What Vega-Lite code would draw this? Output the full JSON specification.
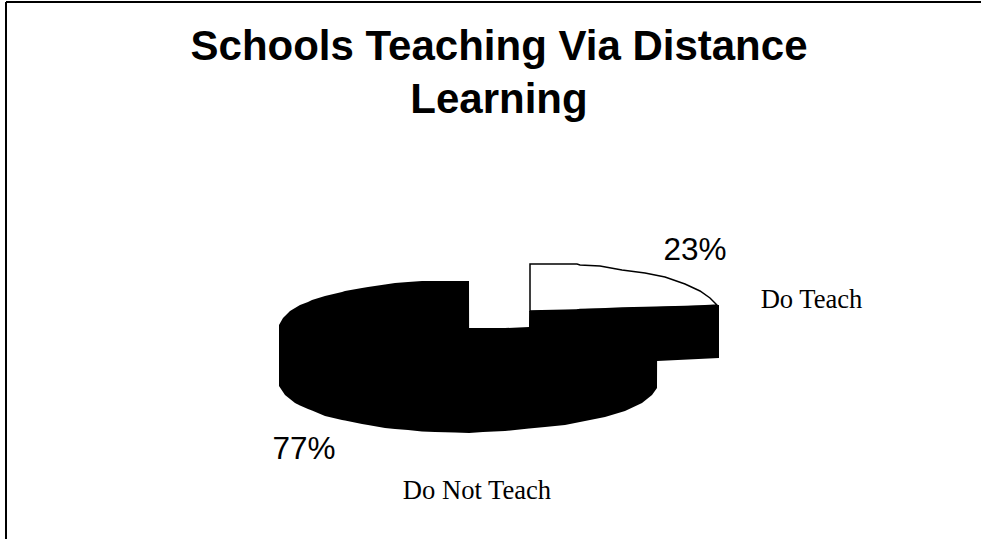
{
"$schema":"https://vega.github.io/schema/vega-lite/v6.json",
"width":981,"height":539,"padding":0,"autosize":{"type":"none"},
"background":"white",
"view":{"stroke":null},
"title":{"text":["Schools Teaching Via Distance","Learning"],"font":"Liberation Sans","fontWeight":"bold","fontSize":42,"lineHeight":53.5,"color":"black","anchor":"middle","frame":"group","orient":"top","baseline":"alphabetic","offset":-155,"dx":8.5},
"datasets":{
"frame":[{"x":6,"x2":981,"y":2,"y2":2},{"x":6,"x2":6,"y":2,"y2":539}],
"slices":[
{"slice":"Do Not Teach","x":279,"top":325,"bottom":386},
{"slice":"Do Not Teach","x":283,"top":318,"bottom":392},
{"slice":"Do Not Teach","x":285,"top":316,"bottom":395},
{"slice":"Do Not Teach","x":290,"top":311,"bottom":399},
{"slice":"Do Not Teach","x":295,"top":308,"bottom":403},
{"slice":"Do Not Teach","x":300,"top":305,"bottom":405.5},
{"slice":"Do Not Teach","x":308,"top":302,"bottom":409},
{"slice":"Do Not Teach","x":312,"top":300,"bottom":410.5},
{"slice":"Do Not Teach","x":325,"top":296,"bottom":416},
{"slice":"Do Not Teach","x":342,"top":292,"bottom":420},
{"slice":"Do Not Teach","x":345,"top":291,"bottom":420.5},
{"slice":"Do Not Teach","x":362,"top":288,"bottom":424},
{"slice":"Do Not Teach","x":368,"top":287,"bottom":425},
{"slice":"Do Not Teach","x":385,"top":284.5,"bottom":428},
{"slice":"Do Not Teach","x":395,"top":283,"bottom":429},
{"slice":"Do Not Teach","x":408,"top":282,"bottom":430},
{"slice":"Do Not Teach","x":422,"top":281,"bottom":431.5},
{"slice":"Do Not Teach","x":435,"top":281,"bottom":432},
{"slice":"Do Not Teach","x":455,"top":281,"bottom":432.5},
{"slice":"Do Not Teach","x":469,"top":281,"bottom":433},
{"slice":"Do Not Teach","x":469.1,"top":328,"bottom":433},
{"slice":"Do Not Teach","x":483,"top":328,"bottom":432},
{"slice":"Do Not Teach","x":505,"top":328,"bottom":431},
{"slice":"Do Not Teach","x":529,"top":327,"bottom":428.5},
{"slice":"Do Not Teach","x":529.1,"top":311,"bottom":428.5},
{"slice":"Do Not Teach","x":545,"top":310.5,"bottom":427},
{"slice":"Do Not Teach","x":565,"top":310,"bottom":425},
{"slice":"Do Not Teach","x":585,"top":309,"bottom":421},
{"slice":"Do Not Teach","x":605,"top":308.5,"bottom":417},
{"slice":"Do Not Teach","x":625,"top":308,"bottom":411},
{"slice":"Do Not Teach","x":642,"top":307.5,"bottom":403},
{"slice":"Do Not Teach","x":652,"top":307.3,"bottom":395},
{"slice":"Do Not Teach","x":657,"top":307,"bottom":388},
{"slice":"Do Not Teach","x":657.1,"top":307,"bottom":361},
{"slice":"Do Not Teach","x":719,"top":305,"bottom":358},
{"slice":"Do Teach","x":530,"top":264,"bottom":311},
{"slice":"Do Teach","x":577,"top":264,"bottom":310},
{"slice":"Do Teach","x":580,"top":265,"bottom":309.5},
{"slice":"Do Teach","x":600,"top":266,"bottom":309},
{"slice":"Do Teach","x":622,"top":270,"bottom":308},
{"slice":"Do Teach","x":645,"top":273,"bottom":307.5},
{"slice":"Do Teach","x":665,"top":277,"bottom":307},
{"slice":"Do Teach","x":685,"top":284,"bottom":306.5},
{"slice":"Do Teach","x":700,"top":291,"bottom":306},
{"slice":"Do Teach","x":710,"top":298,"bottom":305.5},
{"slice":"Do Teach","x":717,"top":305,"bottom":305}
],
"labels":[
{"text":"23%","x":695,"y":260,"kind":"pct"},
{"text":"77%","x":304,"y":459,"kind":"pct"},
{"text":"Do Teach","x":811.5,"y":308,"kind":"name"},
{"text":"Do Not Teach","x":477,"y":499,"kind":"name"}
]
},
"data":{"name":"slices"},
"layer":[
{"data":{"name":"frame"},"mark":{"type":"rule","stroke":"black","strokeWidth":2},
 "encoding":{"x":{"field":"x","type":"quantitative","scale":{"domain":[0,981]},"axis":null},"x2":{"field":"x2"},"y":{"field":"y","type":"quantitative","scale":{"domain":[0,539],"reverse":true},"axis":null},"y2":{"field":"y2"}}},
{"transform":[{"filter":"datum.slice==='Do Teach'"}],"mark":{"type":"area","orient":"vertical","fill":"white","stroke":"black","strokeWidth":1.5},
 "encoding":{"x":{"field":"x","type":"quantitative","scale":{"domain":[0,981]},"axis":null},"y":{"field":"top","type":"quantitative","scale":{"domain":[0,539],"reverse":true},"axis":null},"y2":{"field":"bottom"}}},
{"transform":[{"filter":"datum.slice==='Do Not Teach'"}],"mark":{"type":"area","orient":"vertical","fill":"black"},
 "encoding":{"x":{"field":"x","type":"quantitative","scale":{"domain":[0,981]},"axis":null},"y":{"field":"top","type":"quantitative","scale":{"domain":[0,539],"reverse":true},"axis":null},"y2":{"field":"bottom"}}},
{"data":{"name":"labels"},"transform":[{"filter":"datum.kind==='pct'"}],"mark":{"type":"text","font":"Liberation Sans","fontSize":31.5,"color":"black","align":"center","baseline":"alphabetic"},
 "encoding":{"x":{"field":"x","type":"quantitative","scale":{"domain":[0,981]},"axis":null},"y":{"field":"y","type":"quantitative","scale":{"domain":[0,539],"reverse":true},"axis":null},"text":{"field":"text"}}},
{"data":{"name":"labels"},"transform":[{"filter":"datum.kind==='name'"}],"mark":{"type":"text","font":"Liberation Serif","fontSize":26.6,"color":"black","align":"center","baseline":"alphabetic"},
 "encoding":{"x":{"field":"x","type":"quantitative","scale":{"domain":[0,981]},"axis":null},"y":{"field":"y","type":"quantitative","scale":{"domain":[0,539],"reverse":true},"axis":null},"text":{"field":"text"}}}
]
}
